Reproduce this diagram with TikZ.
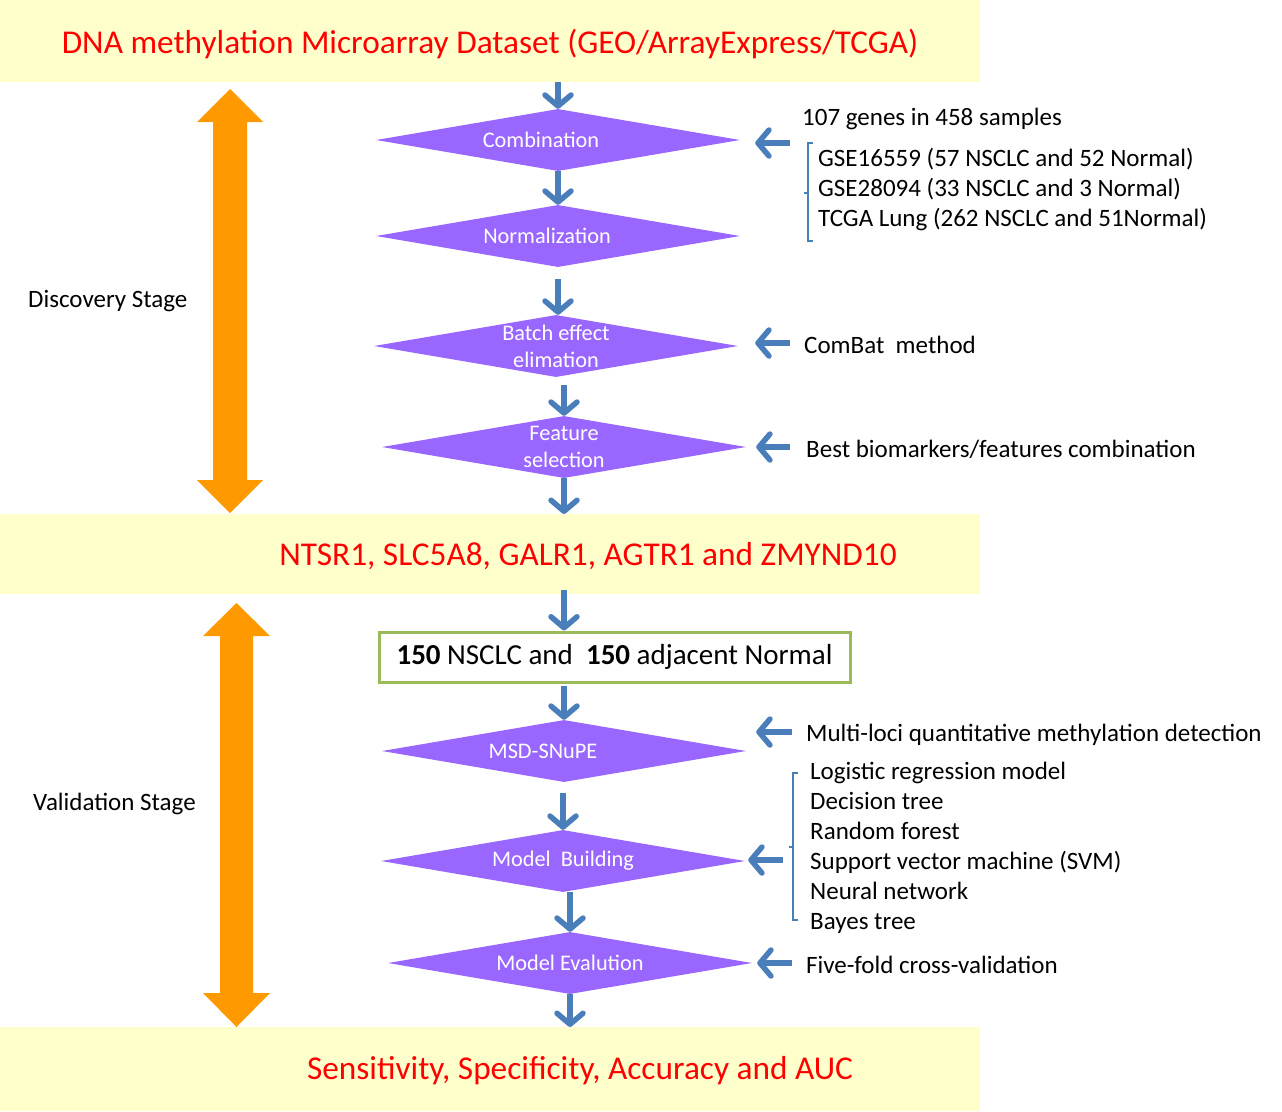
\documentclass[tikz,border=0pt]{standalone}
\usepackage{fontspec}
\setmainfont{Carlito}
\usetikzlibrary{arrows.meta,shapes.geometric}
\definecolor{bandyellow}{HTML}{FFFFCC}
\definecolor{dpurple}{HTML}{9966FF}
\definecolor{ablue}{HTML}{4A7EBB}
\definecolor{borange}{HTML}{FF9900}
\definecolor{bgreen}{HTML}{9BBB59}
\begin{document}
\begin{tikzpicture}[x=1pt,y=-1pt,
  band/.style={fill=bandyellow, draw=none, minimum width=980, minimum height=#1, inner sep=0, anchor=north west},
  bandtext/.style={text=red, font=\fontsize{33.3}{38}\selectfont, inner sep=0},
  dia/.style={diamond, fill=dpurple, draw=none, inner sep=0, minimum width=364, minimum height=62},
  dlabel/.style={text=white, font=\fontsize{22.3}{27}\selectfont, align=center, inner sep=0},
  side/.style={anchor=west, inner sep=0, font=\fontsize{25}{30}\selectfont, align=left},
  flow/.style={draw=ablue, line width=5.5, -{Straight Barb[length=11,width=26,round]}},
  brk/.style={draw=ablue, line width=1.3},
  orangearrow/.style={fill=borange, draw=none}
]
\useasboundingbox (0,0) rectangle (1282,1111);
\fill[white] (0,0) rectangle (1282,1111);

% bands
\node[band=82] (b1) at (0,0) {};
\node[band=80] (b2) at (0,514) {};
\node[band=84] (b3) at (0,1027) {};
\node[bandtext] (t1) at (490,44) {DNA methylation Microarray Dataset (GEO/ArrayExpress/TCGA)};
\node[bandtext] (t2) at (588,556) {NTSR1, SLC5A8, GALR1, AGTR1 and ZMYND10};
\node[bandtext] (t3) at (580,1071) {Sensitivity, Specificity, Accuracy and AUC};

% diamonds
\node[dia, label={[dlabel, xshift=-17]center:Combination}] (comb) at (558,140) {};
\node[dia, label={[dlabel, xshift=-11]center:Normalization}] (norm) at (558,236) {};
\node[dia, label={[dlabel]center:Batch effect\\elimation}] (batch) at (556,346) {};
\node[dia, label={[dlabel]center:Feature\\selection}] (feat) at (564,447) {};
\node[dia, label={[dlabel, xshift=-21]center:MSD-SNuPE}] (msd) at (564,751) {};
\node[dia, label={[dlabel]center:Model\ \ Building}] (build) at (563,861) {};
\node[dia, label={[dlabel]center:Model Evalution}] (eval) at (570,963) {};

% green box
\node[draw=bgreen, line width=3, minimum width=471, minimum height=50, inner sep=0,
      font=\fontsize{29}{32}\selectfont] (box) at (614.5,657)
      {\raisebox{-2pt}{\textbf{150} NSCLC and \ \textbf{150} adjacent Normal}};

% down arrows
\draw[flow] (comb.north |- b1.south) -- (comb.north);
\draw[flow] (comb.south) -- (norm.north);
\draw[flow, shorten <=12] (norm.south) -- (norm.south |- batch.north);
\draw[flow, shorten <=8] (feat.north |- batch.south) -- (feat.north);
\draw[flow] (feat.south) -- (feat.south |- b2.north);
\draw[flow, shorten <=-4] (msd.north |- b2.south) -- (msd.north |- box.north);
\draw[flow, shorten <=2] (msd.north |- box.south) -- (msd.north);
\draw[flow, shorten <=11] (build.north |- msd.south) -- (build.north);
\draw[flow] (eval.north |- build.south) -- (eval.north);
\draw[flow] (eval.south) -- (eval.south |- b3.north);

% side texts
\node[side] (genes) at (802,119) {107 genes in 458 samples};
\node[side] (gse) at (818,190) {GSE16559 (57 NSCLC and 52 Normal)\\GSE28094 (33 NSCLC and 3 Normal)\\TCGA Lung (262 NSCLC and 51Normal)};
\node[side] (combat) at (804,345) {ComBat\ \ method};
\node[side] (best) at (806,449) {Best biomarkers/features combination};
\node[side] (multi) at (806,735) {Multi-loci quantitative methylation detection};
\node[side] (models) at (810,848) {Logistic regression model\\Decision tree\\Random forest\\Support vector machine (SVM)\\Neural network\\Bayes tree};
\node[side] (five) at (806,965) {Five-fold cross-validation};

% left-pointing arrows
\coordinate (a1) at (790,143);
\coordinate (a2) at (790,343);
\coordinate (a3) at (790,447);
\coordinate (a4) at (792,732);
\coordinate (a5) at (783,860);
\coordinate (a6) at (792,963);
\draw[flow, shorten >=15] (a1) -- (a1 -| comb.east);
\draw[flow, shorten >=17] (a2) -- (a2 -| batch.east);
\draw[flow, shorten >=10] (a3) -- (a3 -| feat.east);
\draw[flow, shorten >=10] (a4) -- (a4 -| msd.east);
\draw[flow, shorten >=3] (a5) -- (a5 -| build.east);
\draw[flow, shorten >=5] (a6) -- (a6 -| eval.east);

% brackets
\coordinate (k1t) at (808,143);
\coordinate (k1b) at (808,241);
\coordinate (k1m) at (808,193);
\draw[brk] ([xshift=5]k1t) -- (k1t) -- (k1b) -- ([xshift=5]k1b);
\draw[brk] (k1m) -- ([xshift=-4]k1m);
\coordinate (k2t) at (793,773);
\coordinate (k2b) at (793,920);
\coordinate (k2m) at (793,847);
\draw[brk] ([xshift=5]k2t) -- (k2t) -- (k2b) -- ([xshift=5]k2b);
\draw[brk] (k2m) -- ([xshift=-4]k2m);

% stage labels
\node[side] (disc) at (28,301) {Discovery Stage};
\node[side] (valid) at (33,804) {Validation Stage};

% orange double arrows
\fill[orangearrow] (230,89) -- (263,122) -- (247,122) -- (247,480) -- (263,480) -- (230,513)
  -- (197,480) -- (213,480) -- (213,122) -- (197,122) -- cycle;
\fill[orangearrow] (236.5,603) -- (270,636) -- (253,636) -- (253,993) -- (270,993) -- (236.5,1027)
  -- (203,993) -- (220,993) -- (220,636) -- (203,636) -- cycle;
\end{tikzpicture}
\end{document}
